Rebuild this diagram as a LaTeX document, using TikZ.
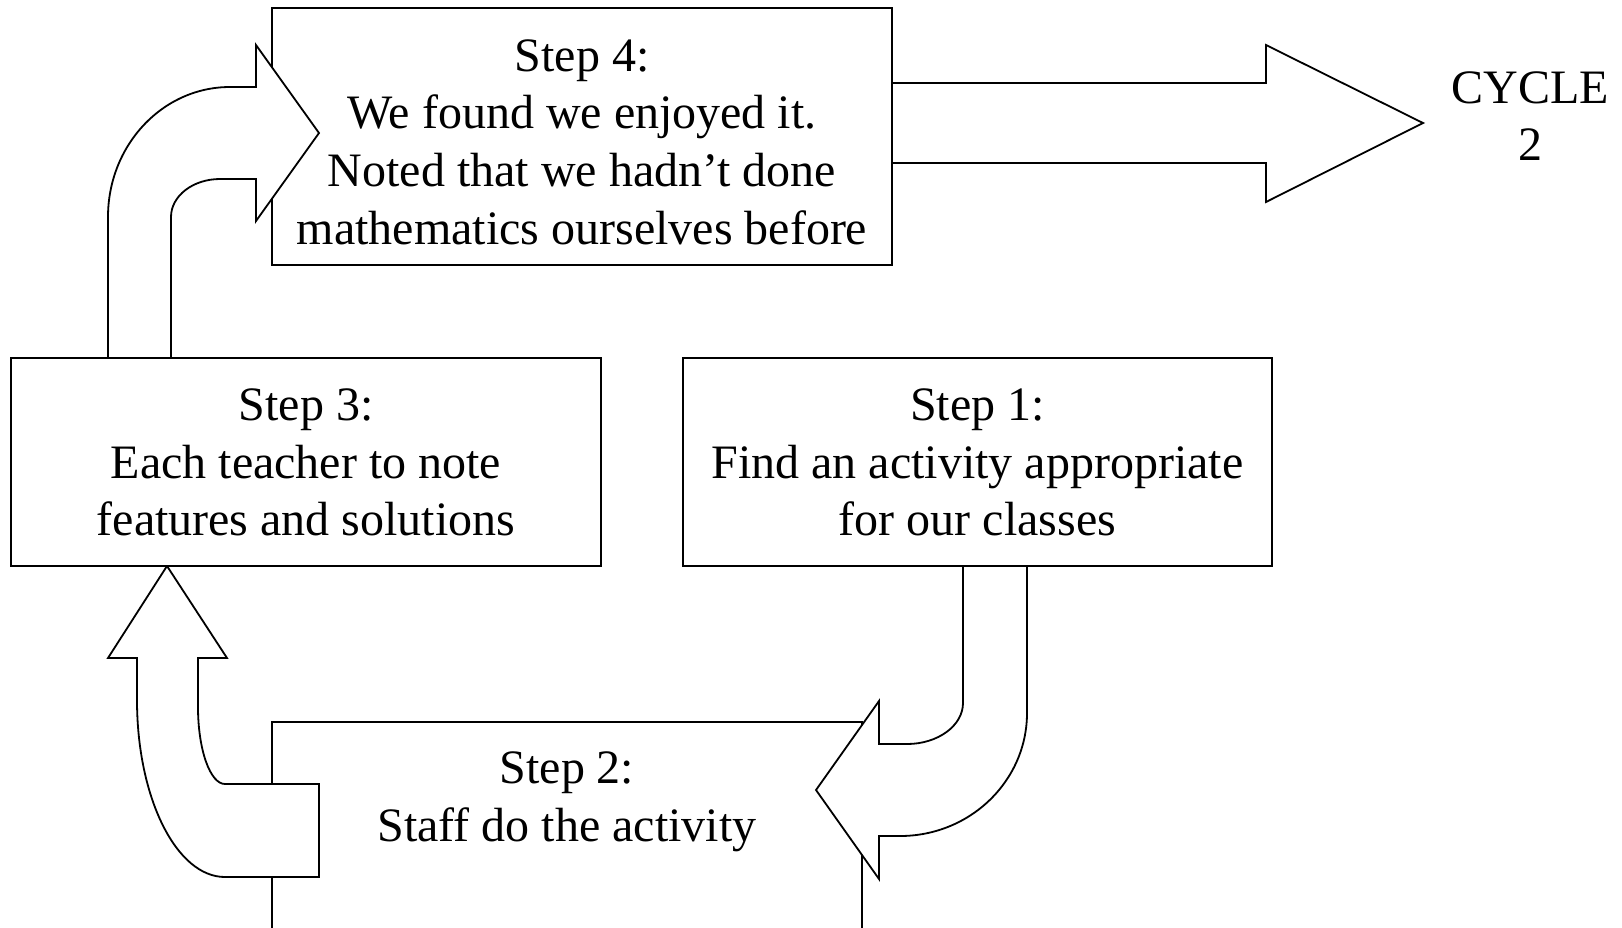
\documentclass[tikz,border=0pt]{standalone}
\usepackage{fontspec}
\setmainfont{Liberation Serif}
\begin{document}
\begin{tikzpicture}[x=0.5pt,y=-0.5pt,
  outline/.style={draw=black,line width=0.9pt,line join=miter,fill=white},
  stepbox/.style={outline,rectangle,inner sep=0pt},
  steptext/.style={align=center,inner sep=0pt,font=\fontsize{24}{28.8}\selectfont}]
\useasboundingbox (0,0) rectangle (1622,927);
\clip (0,0) rectangle (1622,927);

% wide arrow from Step 4 out to the next cycle
\path[outline] (892,83) -- (1266,83) -- (1266,45) -- (1423,123)
  -- (1266,202) -- (1266,163) -- (892,163);

% Step 4 and Step 2 boxes (the bent arrows lie on top of them)
\node[stepbox,minimum width=310pt,minimum height=128.5pt] (box4) at (582,136.5) {};
\node[stepbox,minimum width=295pt,minimum height=150pt] (box2) at (567,872) {};

% bent arrow: Step 3 up and into Step 4
\path[outline] (108,358) -- (108,217)
  .. controls (108,145.2) and (162.6,87) .. (230,87)
  -- (256,87) -- (256,45) -- (319,133) -- (256,221) -- (256,179) -- (220,179)
  .. controls (192.9,179) and (171,196) .. (171,217) -- (171,358);

% bent arrow: Step 1 down and into Step 2
\path[outline] (963,566) -- (963,703)
  .. controls (963,725.6) and (937.9,744) .. (907,744)
  -- (879,744) -- (879,701) -- (816,790) -- (879,879) -- (879,836) -- (900,836)
  .. controls (970.1,836) and (1027,780.9) .. (1027,713) -- (1027,566);

% bent arrow: Step 2 up into Step 3
\path[outline] (167,566) -- (227,658) -- (198,658) -- (198,707)
  .. controls (198,749.5) and (210.1,784) .. (225,784)
  -- (319,784) -- (319,877) -- (225,877)
  .. controls (176.4,877) and (137,797.8) .. (137,700)
  -- (137,658) -- (108,658) -- cycle;

% Step 3 and Step 1 boxes
\node[stepbox,minimum width=295pt,minimum height=104pt] (box3) at (306,462) {};
\node[stepbox,minimum width=294.5pt,minimum height=104pt] (box1) at (977.5,462) {};

% texts
\node[steptext] (t4) at (582,142) {Step 4:\\We found we enjoyed it.\\Noted that we hadn’t done\\mathematics ourselves before};
\node[steptext] (t3) at (306,462.5) {Step 3:\\Each teacher to note\\features and solutions};
\node[steptext] (t1) at (977.5,462.5) {Step 1:\\Find an activity appropriate\\for our classes};
\node[steptext] (t2) at (567,802) {Step 2:\\Staff do the activity};
\node[steptext] (cyc) at (1530,116) {CYCLE\\2};
\end{tikzpicture}
\end{document}
